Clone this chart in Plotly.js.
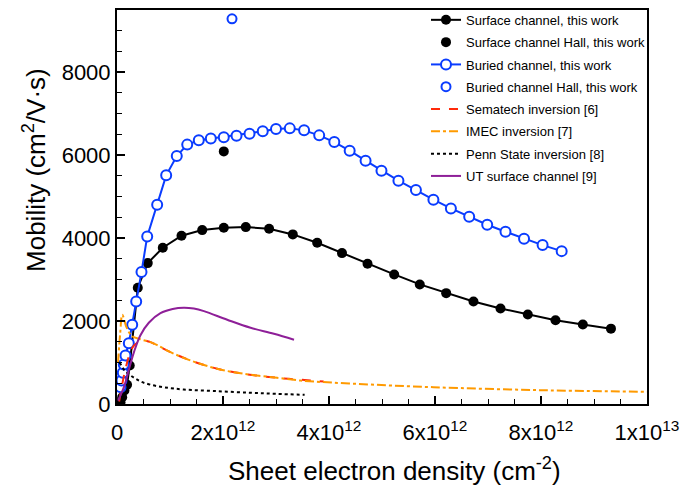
<!DOCTYPE html>
<html>
<head>
<meta charset="utf-8">
<script src="https://cdn.plot.ly/plotly-3.0.1.min.js"></script>
<style>html,body{margin:0;padding:0;background:#fff;}#chart{width:698px;height:490px;}</style>
</head>
<body>
<div id="chart"></div>
<script>
// Values in units of 1e12 cm^-2 (x) and cm^2/V.s (y)
const surfX = [0.066,0.098,0.14,0.19,0.24,0.392,0.58,0.864,1.217,1.608,2.015,2.43,2.87,3.317,3.777,4.245,4.727,5.23,5.713,6.211,6.726,7.236,7.751,8.274,8.789,9.32];
const surfY = [43,164,326,463,929,2803,3397,3768,4058,4193,4251,4265,4227,4089,3889,3638,3382,3124,2883,2673,2473,2304,2159,2021,1918,1817];
const surfHallX = [2.015];
const surfHallY = [6091];
const burX = [0.066,0.085,0.11,0.128,0.16,0.223,0.287,0.362,0.462,0.57,0.758,0.928,1.128,1.325,1.543,1.77,2.015,2.255,2.5,2.75,3.0,3.26,3.53,3.815,4.1,4.39,4.69,4.99,5.31,5.64,5.97,6.3,6.645,6.985,7.33,7.68,8.03,8.39];
const burY = [405,567,753,953,1170,1467,1911,2473,3180,4041,4806,5513,5979,6254,6358,6399,6431,6470,6518,6574,6629,6646,6598,6477,6316,6109,5867,5626,5385,5158,4926,4716,4516,4323,4154,3986,3831,3686];
const burHallX = [2.17];
const burHallY = [9288];
const semaX = [0.04,0.066,0.16,0.25,0.32,0.475,0.632,0.76,1.01,1.39,1.89,2.39,3.02,3.65,3.9];
const semaY = [60,246,849,1242,1411,1532,1491,1411,1250,1049,849,729,632,567,540];
const imecX = [0.02,0.06,0.1,0.18,0.28,0.44,0.632,0.76,1.01,1.39,1.89,2.39,3.02,3.46,4.5,5.97,7.99,10];
const imecY = [1000,1700,2150,1850,1640,1560,1491,1420,1250,1049,849,729,632,566,487,405,333,294];
const pennX = [0.05,0.15,0.3,0.45,0.63,0.9,1.26,1.89,2.52,3.0,3.54];
const pennY = [1000,800,650,540,466,400,350,309,270,245,222];
const utX = [0.02,0.13,0.22,0.32,0.44,0.6,0.82,1.05,1.26,1.45,1.64,2.08,2.52,2.96,3.34];
const utY = [80,405,808,1250,1653,1960,2190,2290,2321,2300,2239,2031,1838,1694,1549];
const xTickVals = [0,2,4,6,8,10];
const xTickText = ["0","2x10<sup>12</sup>","4x10<sup>12</sup>","6x10<sup>12</sup>","8x10<sup>12</sup>","1x10<sup>13</sup>"];
const yTickVals = [0,2000,4000,6000,8000];
const yTickText = ["0","2000","4000","6000","8000"];
const xTitle = 'Sheet electron density (cm<sup>-2</sup>)';
const yTitle = 'Mobility (cm<sup>2</sup>/V·s)';

const sc = v => v.map(a => a * 1e12);
const blue = '#0a3cff';

const traces = [
  {x: sc(surfX), y: surfY, mode: 'lines+markers', name: 'Surface channel, this work', legendgroup: 'a',
   line: {color: 'black', width: 2}, marker: {color: 'black', size: 10}},
  {x: sc(surfHallX), y: surfHallY, mode: 'markers', name: 'Surface channel Hall, this work', legendgroup: 'b',
   marker: {color: 'black', size: 10}},
  {x: sc(burX), y: burY, mode: 'lines+markers', name: 'Buried channel, this work', legendgroup: 'c',
   line: {color: blue, width: 2}, marker: {color: 'white', size: 10, line: {color: blue, width: 2}}},
  {x: sc(burHallX), y: burHallY, mode: 'markers', name: 'Buried channel Hall, this work', legendgroup: 'd',
   marker: {color: 'white', size: 9, line: {color: blue, width: 2}}},
  {x: sc(semaX), y: semaY, mode: 'lines', name: 'Sematech inversion [6]', legendgroup: 'e',
   line: {color: '#ff2a0a', width: 2, dash: 'dash', shape: 'spline'}},
  {x: sc(imecX), y: imecY, mode: 'lines', name: 'IMEC inversion [7]', legendgroup: 'f',
   line: {color: '#ff9a00', width: 2, dash: 'dashdot', shape: 'spline'}},
  {x: sc(pennX), y: pennY, mode: 'lines', name: 'Penn State inversion [8]', legendgroup: 'g',
   line: {color: 'black', width: 2, dash: 'dot', shape: 'spline'}},
  {x: sc(utX), y: utY, mode: 'lines', name: 'UT surface channel [9]', legendgroup: 'h',
   line: {color: '#8e1f98', width: 2, shape: 'spline'}}
];

const font = 'Liberation Sans, Arial, Helvetica, sans-serif';
const layout = {
  width: 698, height: 490,
  margin: {l: 117, r: 51, t: 10, b: 86, autoexpand: false},
  paper_bgcolor: 'white', plot_bgcolor: 'white',
  font: {family: font, color: 'black'},
  showlegend: true,
  legend: {x: 0.583, xanchor: 'left', y: 1.013, yanchor: 'top', bgcolor: 'rgba(0,0,0,0)',
           font: {size: 13, family: font}, tracegroupgap: 2.4},
  xaxis: {
    range: [0, 1e13], tickvals: sc(xTickVals), ticktext: xTickText,
    ticks: 'inside', ticklen: 8, tickwidth: 2, tickcolor: 'black',
    showline: true, linewidth: 2, linecolor: 'black', mirror: true,
    showgrid: false, zeroline: false,
    tickfont: {size: 22, family: font}, ticklabelstandoff: 8,
    minor: {dtick: 5e11, ticks: 'inside', ticklen: 5, tickwidth: 1, tickcolor: 'black', showgrid: false}
  },
  yaxis: {
    range: [0, 9500], tickvals: yTickVals, ticktext: yTickText,
    ticks: 'inside', ticklen: 8, tickwidth: 2, tickcolor: 'black',
    showline: true, linewidth: 2, linecolor: 'black', mirror: true,
    showgrid: false, zeroline: false,
    tickfont: {size: 22, family: font},
    minor: {dtick: 500, ticks: 'inside', ticklen: 5, tickwidth: 1, tickcolor: 'black', showgrid: false}
  },
  annotations: [
    {text: xTitle, xref: 'paper', yref: 'paper', x: 0.523, y: -0.1675, xanchor: 'center', yanchor: 'middle',
     showarrow: false, font: {size: 26, family: font}},
    {text: yTitle, xref: 'paper', yref: 'paper', x: -0.1547, y: 0.594, xanchor: 'center', yanchor: 'middle',
     textangle: -90, showarrow: false, font: {size: 26, family: font}}
  ]
};

Plotly.newPlot('chart', traces, layout, {displayModeBar: false, staticPlot: true});
</script>
</body>
</html>
